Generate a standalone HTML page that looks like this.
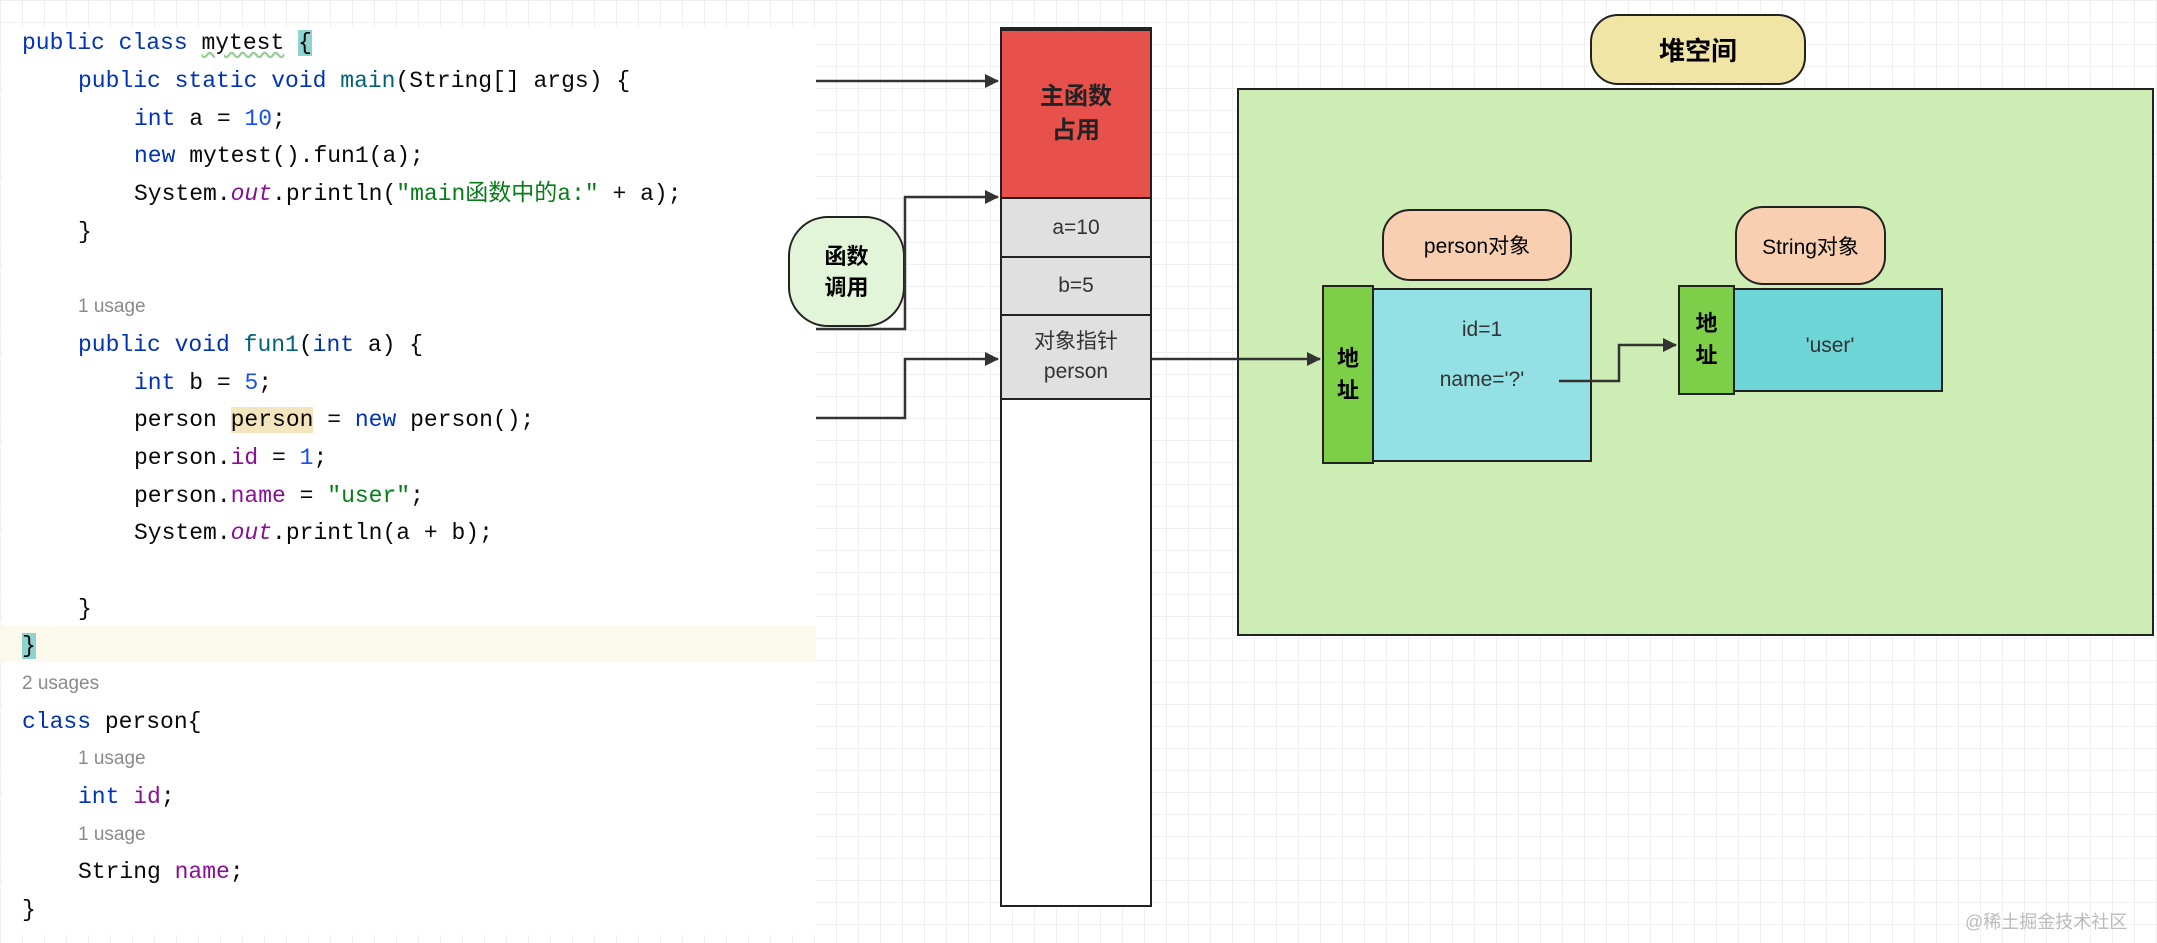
<!DOCTYPE html>
<html><head><meta charset="utf-8"><style>
body{margin:0;width:2157px;height:943px;position:relative;overflow:hidden;background:#fff;
background-image:linear-gradient(#f0f0f0 1px,transparent 1px),linear-gradient(90deg,#f0f0f0 1px,transparent 1px);background-size:22px 22px;font-family:"Liberation Sans","Noto Sans CJK SC",sans-serif}
.code{position:absolute;left:3px;top:27px;width:813px;height:908px;background:#fff}
.l{position:absolute;font-family:"Liberation Mono","Noto Sans CJK SC",monospace;font-size:23px;line-height:38px;height:38px;color:#080808;white-space:pre}
.k{color:#0033b3}.n{color:#1750eb}.s{color:#067d17}.f{color:#871094}.i{font-style:italic;color:#871094}
.u{font-family:"Liberation Sans",sans-serif;font-size:19px;color:#8a8a8a}
.a{position:absolute;box-sizing:border-box;border:2.5px solid #222}
.c{display:flex;align-items:center;justify-content:center;text-align:center}
</style></head><body>
<div class="code"></div>
<div style="position:absolute;left:0;top:626px;width:816px;height:36px;background:#fbf8ec"></div>
<div class="l" style="left:22px;top:24px"><span class="k">public class</span> <span style="text-decoration:underline wavy #9c9">mytest</span> <span style="background:#8fd3d1">{</span></div>
<div class="l" style="left:78px;top:62px"><span class="k">public static void</span> <span style="color:#00627a">main</span>(String[] args) {</div>
<div class="l" style="left:134px;top:100px"><span class="k">int</span> a = <span class="n">10</span>;</div>
<div class="l" style="left:134px;top:137px"><span class="k">new</span> mytest().fun1(a);</div>
<div class="l" style="left:134px;top:175px">System.<span class="i">out</span>.println(<span class="s">"main函数中的a:"</span> + a);</div>
<div class="l" style="left:78px;top:213px">}</div>
<div class="l u" style="left:78px;top:288px">1 usage</div>
<div class="l" style="left:78px;top:326px"><span class="k">public void</span> <span style="color:#00627a">fun1</span>(<span class="k">int</span> a) {</div>
<div class="l" style="left:134px;top:364px"><span class="k">int</span> b = <span class="n">5</span>;</div>
<div class="l" style="left:134px;top:401px">person <span style="background:#f3e6bf">person</span> = <span class="k">new</span> person();</div>
<div class="l" style="left:134px;top:439px">person.<span class="f">id</span> = <span class="n">1</span>;</div>
<div class="l" style="left:134px;top:477px">person.<span class="f">name</span> = <span class="s">"user"</span>;</div>
<div class="l" style="left:134px;top:514px">System.<span class="i">out</span>.println(a + b);</div>
<div class="l" style="left:78px;top:590px">}</div>
<div class="l" style="left:22px;top:627px"><span style="background:#8fd3d1">}</span></div>
<div class="l u" style="left:22px;top:665px">2 usages</div>
<div class="l" style="left:22px;top:703px"><span class="k">class</span> person{</div>
<div class="l u" style="left:78px;top:740px">1 usage</div>
<div class="l" style="left:78px;top:778px"><span class="k">int</span> <span class="f">id</span>;</div>
<div class="l u" style="left:78px;top:816px">1 usage</div>
<div class="l" style="left:78px;top:853px">String <span class="f">name</span>;</div>
<div class="l" style="left:22px;top:891px">}</div>

<!-- stack -->
<div class="a" style="left:1000px;top:27px;width:152px;height:880px;background:#fff"></div>
<div class="a c" style="left:1000px;top:29px;width:152px;height:170px;background:#e8514b;font-weight:bold;font-size:24px;line-height:34px;color:#222">主函数<br>占用</div>
<div class="a c" style="left:1000px;top:197px;width:152px;height:61px;background:#e0e0e0;font-size:21px;color:#333">a=10</div>
<div class="a c" style="left:1000px;top:256px;width:152px;height:60px;background:#e0e0e0;font-size:21px;color:#333">b=5</div>
<div class="a c" style="left:1000px;top:314px;width:152px;height:86px;background:#e0e0e0;font-size:21px;line-height:30px;color:#333">对象指针<br>person</div>

<div class="a c" style="left:788px;top:216px;width:117px;height:111px;border-radius:40px;background:#e3f5d8;font-weight:bold;font-size:22px;line-height:31px">函数<br>调用</div>

<!-- heap -->
<div class="a c" style="left:1590px;top:14px;width:216px;height:71px;border-radius:28px;background:#f1e5a5;font-weight:bold;font-size:26px">堆空间</div>
<div class="a" style="left:1237px;top:88px;width:917px;height:548px;background:#cdedb5"></div>
<div class="a c" style="left:1382px;top:209px;width:190px;height:72px;border-radius:28px;background:#f8cfb0;font-size:21px">person对象</div>
<div class="a c" style="left:1735px;top:206px;width:151px;height:79px;border-radius:28px;background:#f8cfb0;font-size:21px">String对象</div>
<div class="a" style="left:1372px;top:288px;width:220px;height:174px;background:#93e1e4"></div>
<div style="position:absolute;left:1372px;top:318px;width:220px;text-align:center;font-size:21px;color:#333">id=1</div>
<div style="position:absolute;left:1372px;top:368px;width:220px;text-align:center;font-size:21px;color:#333">name='?'</div>
<div class="a c" style="left:1322px;top:285px;width:52px;height:179px;background:#7ccf47;font-weight:bold;font-size:22px;line-height:32px">地<br>址</div>
<div class="a" style="left:1733px;top:288px;width:210px;height:104px;background:#6dd5d6"></div>
<div style="position:absolute;left:1735px;top:334px;width:190px;text-align:center;font-size:21px;color:#333">'user'</div>
<div class="a c" style="left:1678px;top:285px;width:57px;height:110px;background:#7ccf47;font-weight:bold;font-size:22px;line-height:32px">地<br>址</div>

<svg style="position:absolute;left:0;top:0" width="2157" height="943">
<defs><marker id="m" markerWidth="14" markerHeight="14" refX="13" refY="7" orient="auto" markerUnits="userSpaceOnUse"><path d="M0,0L14,7L0,14z" fill="#333"/></marker></defs>
<g fill="none" stroke="#333" stroke-width="2.5">
<path d="M816,81H998" marker-end="url(#m)"/>
<path d="M816,329H905V197H998" marker-end="url(#m)"/>
<path d="M816,418H905V359H998" marker-end="url(#m)"/>
<path d="M1152,359H1320" marker-end="url(#m)"/>
<path d="M1559,381H1619V345H1676" marker-end="url(#m)"/>
</g></svg>
<div style="position:absolute;left:1965px;top:908px;font-size:18px;color:#bbb">@稀土掘金技术社区</div>
</body></html>
